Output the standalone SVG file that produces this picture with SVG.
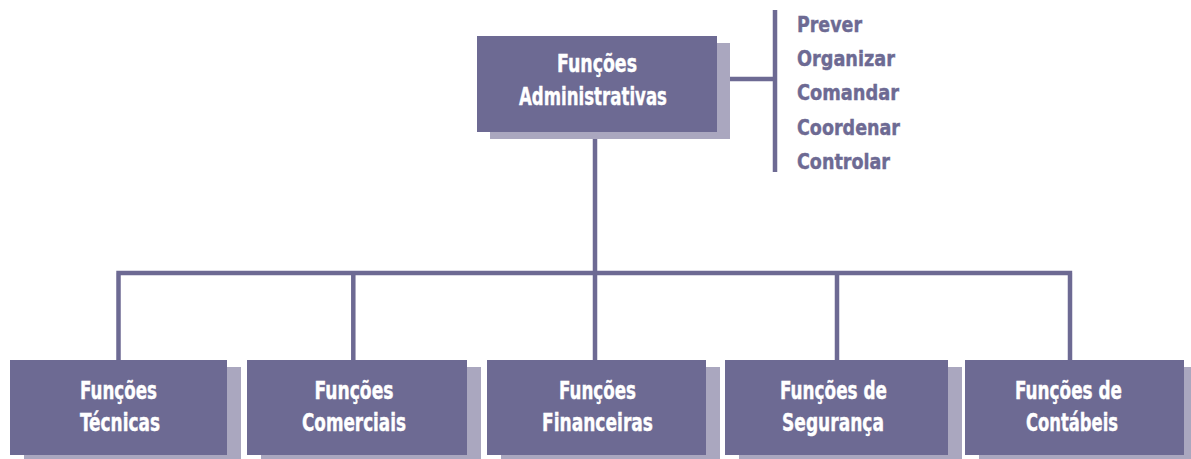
<svg xmlns="http://www.w3.org/2000/svg" width="1191" height="459" viewBox="0 0 1191 459">
<style>
.box{fill:#6d6a93}
.sh{fill:#aaa7bf}
.t{font-family:"DejaVu Sans Condensed","DejaVu Sans",sans-serif;font-stretch:condensed;font-weight:bold;font-size:25px;fill:#fff;stroke:#fff;stroke-width:0.4;text-anchor:middle}
.l{font-family:"DejaVu Sans Condensed","DejaVu Sans",sans-serif;font-stretch:condensed;font-weight:bold;font-size:21.5px;fill:#6d6a93;stroke:#6d6a93;stroke-width:0.4}
.c{stroke:#6d6a93;stroke-width:4.5;fill:none}
</style>
<rect width="1191" height="459" fill="#fff"/>
<g id="connectors">
<path class="c" d="M595 132V273M116.3 273H1072.2M118.5 273V360M353.3 273V360M595 273V360M837 273V360M1070 273V360"/>
<path class="c" d="M717 79H775M775 10V172"/>
</g>
<g id="admin">
<rect class="sh" x="490" y="43" width="240" height="96"/>
<rect class="box" x="477" y="36" width="240" height="96"/>
<text class="t" x="597" y="72" textLength="80" lengthAdjust="spacingAndGlyphs">Funções</text>
<text class="t" x="593" y="105" textLength="148" lengthAdjust="spacingAndGlyphs">Administrativas</text>
</g>
<g id="list">
<text class="l" x="797" y="32" textLength="65" lengthAdjust="spacingAndGlyphs">Prever</text>
<text class="l" x="797" y="66" textLength="98" lengthAdjust="spacingAndGlyphs">Organizar</text>
<text class="l" x="797" y="100" textLength="102" lengthAdjust="spacingAndGlyphs">Comandar</text>
<text class="l" x="797" y="135" textLength="103" lengthAdjust="spacingAndGlyphs">Coordenar</text>
<text class="l" x="797" y="169" textLength="93" lengthAdjust="spacingAndGlyphs">Controlar</text>
</g>
<g id="tecnicas">
<rect class="sh" x="24" y="367" width="217" height="95"/>
<rect class="box" x="10" y="360" width="217" height="95"/>
<text class="t" x="118.5" y="399" textLength="77" lengthAdjust="spacingAndGlyphs">Funções</text>
<text class="t" x="120" y="431" textLength="80" lengthAdjust="spacingAndGlyphs">Técnicas</text>
</g>
<g id="comerciais">
<rect class="sh" x="261" y="367" width="220" height="95"/>
<rect class="box" x="247" y="360" width="220" height="95"/>
<text class="t" x="354" y="399" textLength="79" lengthAdjust="spacingAndGlyphs">Funções</text>
<text class="t" x="354" y="431" textLength="104" lengthAdjust="spacingAndGlyphs">Comerciais</text>
</g>
<g id="financeiras">
<rect class="sh" x="501" y="367" width="219" height="95"/>
<rect class="box" x="487" y="360" width="219" height="95"/>
<text class="t" x="597.5" y="399" textLength="77" lengthAdjust="spacingAndGlyphs">Funções</text>
<text class="t" x="597.5" y="431" textLength="111" lengthAdjust="spacingAndGlyphs">Financeiras</text>
</g>
<g id="seguranca">
<rect class="sh" x="739" y="367" width="223" height="95"/>
<rect class="box" x="725" y="360" width="223" height="95"/>
<text class="t" x="833.5" y="399" textLength="107" lengthAdjust="spacingAndGlyphs">Funções de</text>
<text class="t" x="833" y="431" textLength="102" lengthAdjust="spacingAndGlyphs">Segurança</text>
</g>
<g id="contabeis">
<rect class="sh" x="979" y="367" width="219" height="95"/>
<rect class="box" x="965" y="360" width="219" height="95"/>
<text class="t" x="1068.5" y="399" textLength="107" lengthAdjust="spacingAndGlyphs">Funções de</text>
<text class="t" x="1072" y="431" textLength="92" lengthAdjust="spacingAndGlyphs">Contábeis</text>
</g>
</svg>
